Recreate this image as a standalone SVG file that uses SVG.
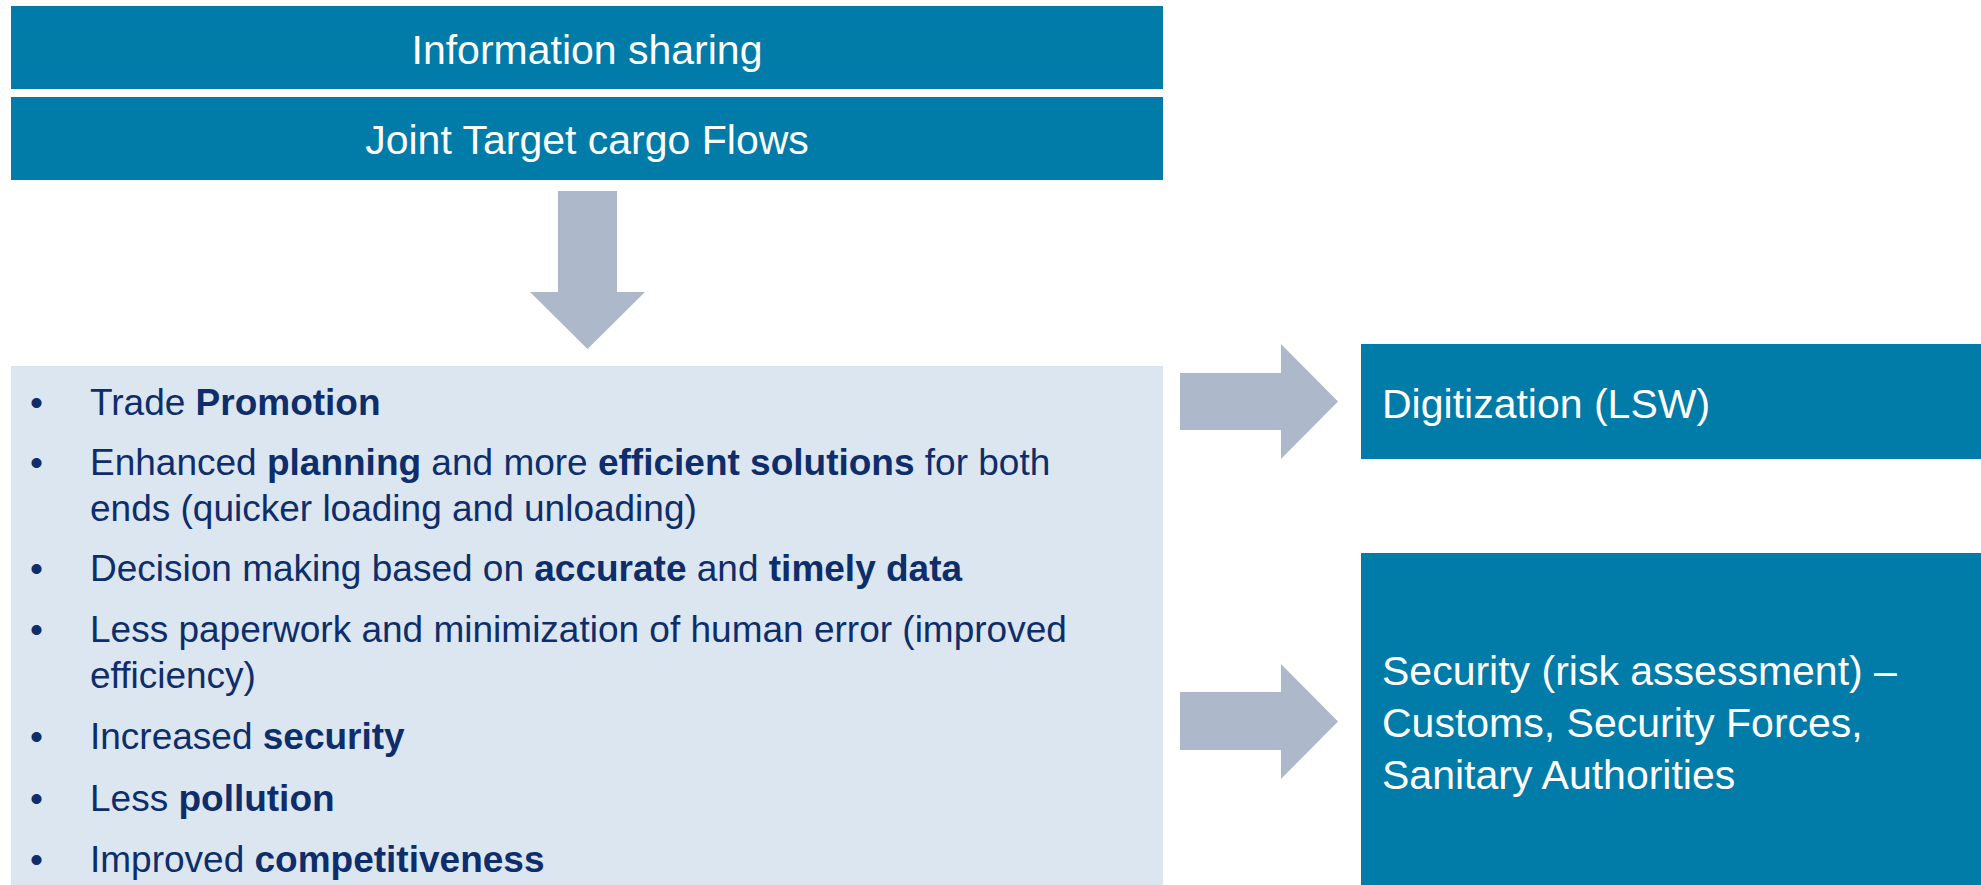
<svg xmlns="http://www.w3.org/2000/svg" width="1981" height="885" viewBox="0 0 1981 885">
<style>
.dark{fill:#017BA7}
.light{fill:#DCE6F0}
.arr{fill:#ADB9CA}
.wt{font-family:"Liberation Sans",Arial,sans-serif;font-size:41px;fill:#FFFFFF}
.bt{font-family:"Liberation Sans",Arial,sans-serif;font-size:37px;fill:#0E2D6B}
.b{font-weight:bold}
</style>
<rect width="1981" height="885" fill="#FFFFFF"/>
<g id="info-sharing">
<rect class="dark" x="11" y="6" width="1152" height="83"/>
<text class="wt" x="587" y="64" text-anchor="middle">Information sharing</text>
</g>
<g id="joint-target">
<rect class="dark" x="11" y="97" width="1152" height="83"/>
<text class="wt" x="587" y="154" text-anchor="middle">Joint Target cargo Flows</text>
</g>
<g id="benefits">
<rect class="light" x="11" y="366" width="1152" height="519"/>
<g class="bt">
<text x="30" y="415">•</text><text x="90" y="415">Trade <tspan class="b">Promotion</tspan></text>
<text x="30" y="475">•</text><text x="90" y="475">Enhanced <tspan class="b">planning</tspan> and more <tspan class="b">efficient solutions</tspan> for both</text>
<text x="90" y="521">ends (quicker loading and unloading)</text>
<text x="30" y="581">•</text><text x="90" y="581">Decision making based on <tspan class="b">accurate</tspan> and <tspan class="b">timely data</tspan></text>
<text x="30" y="642">•</text><text x="90" y="642">Less paperwork and minimization of human error (improved</text>
<text x="90" y="688">efficiency)</text>
<text x="30" y="749">•</text><text x="90" y="749">Increased <tspan class="b">security</tspan></text>
<text x="30" y="811">•</text><text x="90" y="811">Less <tspan class="b">pollution</tspan></text>
<text x="30" y="872">•</text><text x="90" y="872">Improved <tspan class="b">competitiveness</tspan></text>
</g>
</g>
<g id="digitization">
<rect class="dark" x="1361" y="344" width="620" height="115"/>
<text class="wt" x="1382" y="418">Digitization (LSW)</text>
</g>
<g id="security">
<rect class="dark" x="1361" y="553" width="620" height="332"/>
<text class="wt" x="1382" y="685">Security (risk assessment) –</text>
<text class="wt" x="1382" y="737">Customs, Security Forces,</text>
<text class="wt" x="1382" y="789">Sanitary Authorities</text>
</g>
<g id="connectors">
<polygon class="arr" points="558,191 617,191 617,292 645,292 587.5,349 530,292 558,292"/>
<polygon class="arr" points="1180,373 1281,373 1281,344 1338,401.5 1281,459 1281,430 1180,430"/>
<polygon class="arr" points="1180,692 1281,692 1281,664 1338,721.5 1281,779 1281,750 1180,750"/>
</g>
</svg>
